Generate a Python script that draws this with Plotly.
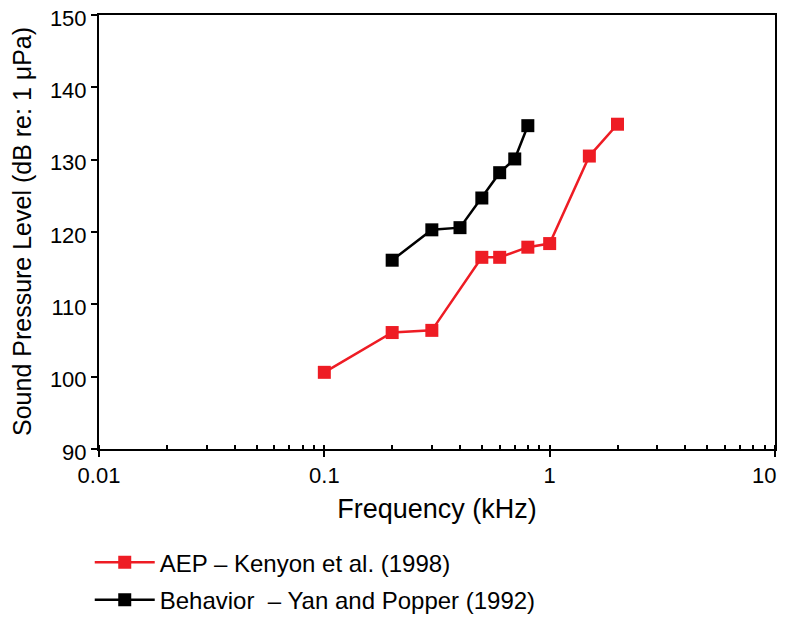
import plotly.graph_objects as go

# Data
aep_freq = [0.1, 0.2, 0.3, 0.5, 0.6, 0.8, 1.0, 1.5, 2.0]
aep_spl = [100.6, 106.1, 106.4, 116.5, 116.5, 117.9, 118.4, 130.5, 134.9]

beh_freq = [0.2, 0.3, 0.4, 0.5, 0.6, 0.7, 0.8]
beh_spl = [116.1, 120.3, 120.6, 124.7, 128.2, 130.1, 134.7]

x_tickvals = [0.01, 0.1, 1, 10]
x_ticktext = ["0.01", "0.1", "1", ""]
x_last_label = "10"
y_tickvals = [90, 100, 110, 120, 130, 140, 150]

y_title = "Sound Pressure Level (dB re: 1 \u03bcPa)"
x_title = "Frequency (kHz)"
aep_name = "AEP \u2013 Kenyon et al. (1998)"
beh_name = "Behavior\u00a0\u00a0\u2013 Yan and Popper (1992)"

RED = "#ee1c24"
FONT = "Liberation Sans, Arial, Helvetica, sans-serif"

fig = go.Figure()
fig.add_trace(go.Scatter(
    x=aep_freq, y=aep_spl, mode="lines+markers", name=aep_name,
    line=dict(color=RED, width=2.5),
    marker=dict(symbol="square", size=13, color=RED),
    legend="legend2", showlegend=True,
))
fig.add_trace(go.Scatter(
    x=beh_freq, y=beh_spl, mode="lines+markers", name=beh_name,
    line=dict(color="black", width=2.5),
    marker=dict(symbol="square", size=13, color="black"),
    legend="legend3", showlegend=True,
))

# page body has an 8px margin; keep the figure inside the window
fig.update_layout(
    width=771, height=606,
    margin=dict(l=91, r=4, t=7, b=165, autoexpand=False),
    paper_bgcolor="white", plot_bgcolor="white",
    font=dict(family=FONT, size=22, color="black"),
    showlegend=True,
    legend2=dict(x=-0.0137, y=-0.262, xanchor="left", yanchor="middle",
                 itemwidth=60, font=dict(size=24), bgcolor="rgba(0,0,0,0)"),
    legend3=dict(x=-0.0137, y=-0.348, xanchor="left", yanchor="middle",
                 itemwidth=60, font=dict(size=24), bgcolor="rgba(0,0,0,0)"),
)

fig.add_annotation(
    text=y_title, textangle=-90, showarrow=False,
    xref="paper", yref="paper", x=0, y=0.5,
    xanchor="center", yanchor="middle", xshift=-77,
    font=dict(size=25, family=FONT, color="black"),
)
fig.add_annotation(
    text=x_last_label, showarrow=False,
    xref="x", yref="paper", x=1, y=0,
    xanchor="right", yanchor="middle", xshift=3, yshift=-26,
    font=dict(size=22, family=FONT, color="black"),
)

fig.update_xaxes(
    type="log", range=[-2, 1],
    tickvals=x_tickvals, ticktext=x_ticktext,
    ticks="outside", ticklen=6, tickwidth=2, tickcolor="black",
    minor=dict(ticks="inside", ticklen=4, tickwidth=1.5, tickcolor="black",
               dtick="D1", showgrid=False),
    showline=True, linewidth=2, linecolor="black", mirror=True,
    showgrid=False, zeroline=False, automargin=False,
    ticklabelstandoff=0, ticklabeloverflow="allow",
    title=dict(text=x_title, font=dict(size=27), standoff=12),
    tickfont=dict(size=22),
)
fig.update_yaxes(
    range=[90, 150], tickvals=y_tickvals,
    ticks="outside", ticklen=6, tickwidth=2, tickcolor="black",
    showline=True, linewidth=2, linecolor="black", mirror=True,
    showgrid=False, zeroline=False, automargin=False,
    ticklabelstandoff=0, ticklabeloverflow="allow", ticklabelshift=3,
    tickfont=dict(size=22),
)

fig.write_html("out.html")
